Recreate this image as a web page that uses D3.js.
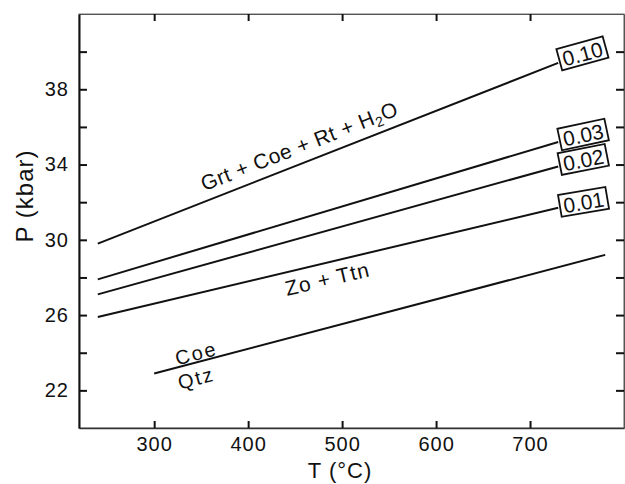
<!DOCTYPE html>
<html>
<head>
<meta charset="utf-8">
<script src="https://cdn.jsdelivr.net/npm/d3@7"></script>
<style>
  html, body { margin: 0; padding: 0; background: #fff; }
  svg { display: block; font-family: "Liberation Sans", Arial, Helvetica, sans-serif; }
</style>
</head>
<body>
<div id="chart"></div>
<script>
// isopleth values (labels in boxes) and P (kbar) at the two ends of each line
const isoLabels = ["0.10", "0.03", "0.02", "0.01"];
const isoT = [240, 730];
const isoP = [
  [29.8, 39.4],
  [27.9, 35.2],
  [27.1, 33.9],
  [25.9, 31.7]
];

// coesite / quartz transition
const coeT = [300, 780];
const coeP = [22.9, 29.2];

const xTicks = [300, 400, 500, 600, 700];
const yTicks = [22, 24, 26, 28, 30, 32, 34, 36, 38, 40];
const yTickLabels = [22, 26, 30, 34, 38];

const W = 625, H = 484;
const margin = { top: 14, right: 1, bottom: 56, left: 79 };

const svg = d3.select("#chart")
  .append("svg")
  .attr("width", W)
  .attr("height", H);

const x = d3.scaleLinear().domain([220, 800]).range([margin.left, W - margin.right]);
const y = d3.scaleLinear().domain([20, 42]).range([H - margin.bottom, margin.top]);

// frame
svg.append("rect")
  .attr("x", margin.left)
  .attr("y", margin.top)
  .attr("width", W - margin.left - margin.right)
  .attr("height", H - margin.top - margin.bottom)
  .attr("fill", "none")
  .attr("stroke", "#888")
  .attr("stroke-width", 1.2);

// axes, ticks pointing inside
const xAxis = svg.append("g")
  .attr("transform", `translate(0,${y(20)})`)
  .call(d3.axisBottom(x).tickValues(xTicks).tickSizeInner(-7).tickSizeOuter(0).tickPadding(9));

svg.append("g")
  .attr("transform", `translate(0,${y(42)})`)
  .call(d3.axisTop(x).tickValues(xTicks).tickSizeInner(-7).tickSizeOuter(0).tickFormat(""));

const yAxis = svg.append("g")
  .attr("transform", `translate(${x(220)},0)`)
  .call(d3.axisLeft(y).tickValues(yTicks).tickSizeInner(-8).tickSizeOuter(0).tickPadding(10)
    .tickFormat(d => yTickLabels.includes(d) ? d : ""));

svg.append("g")
  .attr("transform", `translate(${x(800)},0)`)
  .call(d3.axisRight(y).tickValues(yTicks).tickSizeInner(-8).tickSizeOuter(0).tickFormat(""));

svg.selectAll(".tick line").attr("stroke", "#111").attr("stroke-width", 2);
svg.selectAll(".domain").attr("stroke", "#555").attr("stroke-width", 1.2);
yAxis.select(".domain").attr("stroke", "#111").attr("stroke-width", 2);
xAxis.select(".domain").attr("stroke", "#333").attr("stroke-width", 1.5);
svg.selectAll(".tick text")
  .attr("font-size", 20)
  .attr("fill", "#111")
  .style("font-family", "\"Liberation Sans\", Arial, sans-serif")
  .style("letter-spacing", "1px");

// axis titles
svg.append("text")
  .attr("x", 340)
  .attr("y", 478)
  .attr("text-anchor", "middle")
  .attr("font-size", 22)
  .attr("fill", "#111")
  .style("letter-spacing", "1px")
  .text("T (°C)");

svg.append("text")
  .attr("transform", `translate(33,196) rotate(-90)`)
  .attr("text-anchor", "middle")
  .attr("font-size", 24)
  .attr("fill", "#111")
  .style("letter-spacing", "1px")
  .text("P (kbar)");

const line = d3.line().x(d => x(d[0])).y(d => y(d[1]));

// isopleths
isoLabels.forEach((lab, i) => {
  const pts = isoT.map((t, j) => [t, isoP[i][j]]);
  svg.append("path")
    .attr("d", line(pts))
    .attr("fill", "none")
    .attr("stroke", "#111")
    .attr("stroke-width", 2);

  const x0 = x(pts[0][0]), y0 = y(pts[0][1]);
  const x1 = x(pts[1][0]), y1 = y(pts[1][1]);
  const ang = Math.atan2(y1 - y0, x1 - x0);
  const cx = x1 + Math.cos(ang) * 26, cy = y1 + Math.sin(ang) * 26;
  const g = svg.append("g")
    .attr("transform", `translate(${cx},${cy}) rotate(${ang * 180 / Math.PI * 0.72})`);
  g.append("rect")
    .attr("x", -24).attr("y", -11)
    .attr("width", 48).attr("height", 22)
    .attr("fill", "#fff")
    .attr("stroke", "#111")
    .attr("stroke-width", 1.8);
  g.append("text")
    .attr("text-anchor", "middle")
    .attr("y", 8)
    .attr("font-size", 21)
    .attr("font-weight", 500)
    .attr("fill", "#111")
    .text(lab);
});

// coe / qtz line
svg.append("path")
  .attr("d", line(coeT.map((t, j) => [t, coeP[j]])))
  .attr("fill", "none")
  .attr("stroke", "#111")
  .attr("stroke-width", 2);

// rotated field labels
function angleOf(t, p) {
  return Math.atan2(y(p[1]) - y(p[0]), x(t[1]) - x(t[0])) * 180 / Math.PI;
}

const a10 = angleOf(isoT, isoP[0]);
const grt = svg.append("text")
  .attr("transform", `translate(302,153) rotate(${a10})`)
  .attr("text-anchor", "middle")
  .attr("font-size", 21)
  .attr("font-weight", 500)
  .attr("fill", "#111")
  .style("letter-spacing", "0.5px");
grt.append("tspan").text("Grt + Coe + Rt + H");
grt.append("tspan").attr("font-size", 14).attr("dy", 4).text("2");
grt.append("tspan").attr("dy", -4).text("O");

const a01 = angleOf(isoT, isoP[3]);
svg.append("text")
  .attr("transform", `translate(329,286) rotate(${a01})`)
  .attr("text-anchor", "middle")
  .attr("font-size", 21)
  .attr("font-weight", 500)
  .attr("fill", "#111")
  .style("letter-spacing", "1px")
  .text("Zo + Ttn");

const aCoe = angleOf(coeT, coeP);
svg.append("text")
  .attr("transform", `translate(198,360) rotate(${aCoe})`)
  .attr("text-anchor", "middle")
  .attr("font-size", 20)
  .attr("fill", "#111")
  .style("letter-spacing", "2px")
  .text("Coe");

svg.append("text")
  .attr("transform", `translate(198,385) rotate(${aCoe})`)
  .attr("text-anchor", "middle")
  .attr("font-size", 20)
  .attr("fill", "#111")
  .style("letter-spacing", "2px")
  .text("Qtz");
</script>
</body>
</html>
